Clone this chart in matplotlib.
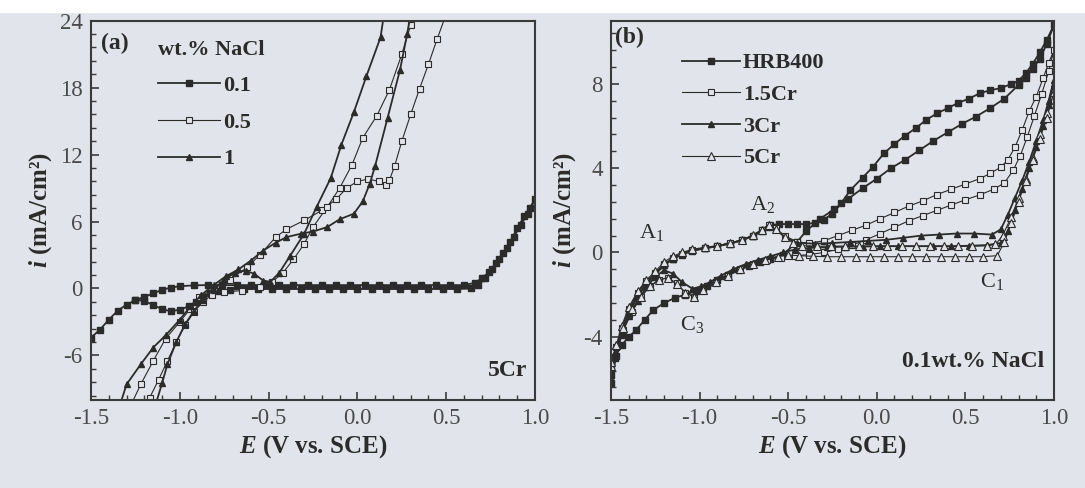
import matplotlib.pyplot as plt
from matplotlib.ticker import MultipleLocator
from matplotlib.patches import Rectangle

plt.rcParams['font.family'] = ['Liberation Serif', 'DejaVu Serif']
plt.rcParams['mathtext.fontset'] = 'custom'
plt.rcParams['mathtext.it'] = 'Liberation Serif:italic:bold'
plt.rcParams['mathtext.rm'] = 'Liberation Serif'
plt.rcParams['axes.unicode_minus'] = False

BG = '#e1e4ea'
INK = '#2b2b2b'

# ---------------- panel (a): 5Cr in different NaCl contents ----------------
a01_fwd_E = [-1.50, -1.45, -1.40, -1.35, -1.30, -1.25, -1.20, -1.15, -1.10, -1.05, -1.00,
             -0.92, -0.84, -0.76, -0.68, -0.60, -0.52, -0.44, -0.36, -0.28, -0.20, -0.12,
             -0.04, 0.04, 0.12, 0.20, 0.28, 0.36, 0.44, 0.52, 0.60,
             0.66, 0.70, 0.74, 0.78, 0.82, 0.86, 0.90, 0.94, 0.97, 1.00]
a01_fwd_i = [-4.4, -3.7, -2.8, -2.0, -1.45, -1.05, -0.75, -0.45, -0.12, 0.08, 0.2,
             0.28, 0.3, 0.3, 0.3, 0.3, 0.3, 0.3, 0.3, 0.3, 0.3, 0.3,
             0.3, 0.3, 0.3, 0.3, 0.3, 0.3, 0.3, 0.3, 0.3,
             0.5, 0.9, 1.45, 2.3, 3.2, 4.2, 5.4, 6.5, 7.2, 8.0]
a01_rev_E = [0.96, 0.92, 0.88, 0.84, 0.80, 0.76, 0.72, 0.68, 0.64, 0.56, 0.48, 0.40,
             0.32, 0.24, 0.16, 0.08, 0.00, -0.08, -0.16, -0.24, -0.32, -0.40, -0.48,
             -0.56, -0.64, -0.72, -0.78, -0.83, -0.87, -0.91, -0.95, -1.00, -1.05,
             -1.10, -1.15, -1.20, -1.25]
a01_rev_i = [6.7, 5.7, 4.6, 3.6, 2.6, 1.7, 0.9, 0.3, 0.0, -0.05, -0.05, -0.05,
             -0.05, -0.05, -0.05, -0.05, -0.05, -0.05, -0.05, -0.05, -0.05, -0.05, -0.05,
             -0.05, -0.05, -0.1, -0.2, -0.4, -0.8, -1.2, -1.6, -1.9, -2.05,
             -1.85, -1.5, -1.1, -1.05]

a05_fwd_E = [-1.28, -1.22, -1.15, -1.08, -1.00, -0.94, -0.89, -0.81, -0.72, -0.62,
             -0.55, -0.46, -0.40, -0.30, -0.20, -0.12, -0.06, 0.00, 0.06, 0.12,
             0.16, 0.18, 0.21, 0.25, 0.30, 0.35, 0.40, 0.45, 0.50]
a05_fwd_i = [-10.6, -8.6, -6.5, -4.5, -3.0, -1.8, -0.8, 0.0, 0.8, 1.9,
             3.0, 4.6, 5.3, 6.1, 7.0, 8.0, 9.0, 9.6, 9.8, 9.6,
             9.3, 9.7, 11.0, 13.2, 15.6, 17.9, 20.1, 22.4, 24.6]
a05_rev_E = [0.34, 0.30, 0.25, 0.18, 0.11, 0.03, -0.03, -0.10, -0.17, -0.25, -0.30,
             -0.36, -0.42, -0.48, -0.55, -0.65, -0.75, -0.82, -0.87, -0.92, -0.97,
             -1.02, -1.07, -1.12, -1.17, -1.21]
a05_rev_i = [25.2, 23.6, 21.0, 17.8, 15.5, 13.5, 11.1, 9.0, 7.3, 5.5, 4.0,
             2.6, 1.4, 0.6, 0.1, -0.2, -0.3, -0.6, -1.2, -2.1, -3.3,
             -4.8, -6.5, -8.2, -9.8, -10.6]

a1_fwd_E = [-1.34, -1.30, -1.22, -1.15, -1.08, -1.00, -0.94, -0.88, -0.81, -0.74,
            -0.67, -0.60, -0.53, -0.46, -0.40, -0.32, -0.25, -0.17, -0.10, -0.02,
            0.03, 0.07, 0.10, 0.17, 0.24, 0.28, 0.30]
a1_fwd_i = [-10.6, -8.6, -6.8, -5.3, -4.2, -2.8, -1.6, -0.6, 0.3, 1.1,
            1.7, 2.5, 3.4, 4.1, 4.6, 4.9, 5.1, 5.5, 6.2, 6.7,
            7.8, 9.4, 11.0, 15.3, 19.6, 22.8, 24.6]
a1_rev_E = [0.15, 0.13, 0.05, -0.02, -0.09, -0.15, -0.23, -0.30, -0.38, -0.44, -0.49,
            -0.53, -0.58, -0.63, -0.69, -0.75, -0.81, -0.87, -0.92, -0.97, -1.02,
            -1.07, -1.10, -1.14]
a1_rev_i = [24.6, 22.5, 19.0, 15.8, 12.9, 9.9, 7.3, 4.9, 2.9, 1.4, 0.6,
            0.7, 1.3, 1.6, 1.4, 0.8, -0.1, -1.0, -2.0, -3.2, -4.8,
            -6.8, -8.5, -10.6]

# ---------------- panel (b): steels in 0.1 wt.% NaCl ----------------
hrb_fwd_E = [-1.50, -1.47, -1.44, -1.40, -1.35, -1.30, -1.25, -1.20, -1.15, -1.10,
             -1.04, -0.97, -0.90, -0.83, -0.76, -0.70, -0.65, -0.60, -0.55, -0.50,
             -0.45, -0.40, -0.35, -0.30, -0.25, -0.20, -0.15, -0.08, -0.02, 0.04,
             0.10, 0.16, 0.22, 0.28, 0.34, 0.40, 0.46, 0.52, 0.58, 0.64,
             0.70, 0.76, 0.80, 0.84, 0.88, 0.92, 0.96, 1.00]
hrb_fwd_i = [-6.2, -4.9, -3.9, -2.9, -2.1, -1.5, -1.05, -0.6, -0.3, -0.1,
             0.08, 0.2, 0.3, 0.42, 0.58, 0.8, 1.05, 1.3, 1.35, 1.35,
             1.35, 1.35, 1.4, 1.55, 1.85, 2.35, 2.95, 3.55, 4.08, 4.7,
             5.15, 5.55, 5.9, 6.3, 6.6, 6.85, 7.1, 7.3, 7.55, 7.7,
             7.8, 8.0, 8.15, 8.5, 8.95, 9.5, 10.1, 10.8]
hrb_rev_E = [0.96, 0.92, 0.88, 0.84, 0.80, 0.72, 0.64, 0.56, 0.48, 0.40,
             0.32, 0.24, 0.16, 0.08, 0.00, -0.08, -0.16, -0.24, -0.32, -0.40,
             -0.45, -0.53, -0.60, -0.66, -0.72, -0.78, -0.84, -0.90, -0.96, -1.02,
             -1.08, -1.14, -1.20, -1.26, -1.31, -1.36, -1.40, -1.44, -1.48, -1.50]
hrb_rev_i = [9.9, 9.2, 8.7, 8.3, 7.95, 7.3, 6.85, 6.45, 6.1, 5.7,
             5.3, 4.85, 4.4, 4.0, 3.5, 3.05, 2.55, 2.05, 1.6, 1.0,
             0.5, -0.1, -0.3, -0.43, -0.62, -0.85, -1.05, -1.3, -1.6, -1.82,
             -2.0, -2.15, -2.4, -2.72, -3.2, -3.7, -4.0, -4.4, -5.0, -5.8]

cr15_fwd_E = [-1.50, -1.47, -1.44, -1.40, -1.35, -1.30, -1.25, -1.20, -1.15, -1.10,
              -1.04, -0.97, -0.90, -0.83, -0.76, -0.70, -0.65, -0.61, -0.57, -0.52,
              -0.45, -0.38, -0.30, -0.22, -0.14, -0.06, 0.02, 0.10, 0.18, 0.26,
              0.34, 0.42, 0.50, 0.58, 0.64, 0.70, 0.74, 0.78, 0.82, 0.86,
              0.90, 0.94, 0.97, 1.00]
cr15_fwd_i = [-5.5, -4.5, -3.6, -2.7, -1.9, -1.35, -0.95, -0.55, -0.25, -0.05,
              0.12, 0.22, 0.32, 0.45, 0.6, 0.8, 1.05, 1.3, 1.15, 0.8,
              0.5, 0.45, 0.55, 0.8, 1.05, 1.3, 1.6, 1.9, 2.2, 2.45,
              2.75, 3.0, 3.25, 3.5, 3.75, 4.05, 4.4, 5.0, 5.8, 6.7,
              7.4, 8.3, 9.0, 9.6]
cr15_rev_E = [0.97, 0.93, 0.89, 0.85, 0.81, 0.77, 0.72, 0.66, 0.58, 0.50,
              0.42, 0.34, 0.26, 0.18, 0.10, 0.02, -0.06, -0.14, -0.22, -0.30,
              -0.38, -0.46, -0.54, -0.62, -0.70, -0.77, -0.84, -0.91, -0.98, -1.03,
              -1.08, -1.13, -1.18, -1.23, -1.28, -1.33, -1.38, -1.43, -1.47, -1.50]
cr15_rev_i = [8.6, 7.5, 6.5, 5.5, 4.6, 3.9, 3.3, 3.0, 2.73, 2.5,
              2.25, 2.0, 1.75, 1.5, 1.2, 0.9, 0.6, 0.35, 0.15, 0.0,
              -0.1, -0.15, -0.25, -0.35, -0.55, -0.8, -1.1, -1.45, -1.85, -2.1,
              -1.9, -1.45, -1.2, -1.3, -1.6, -2.1, -2.8, -3.7, -4.5, -5.4]

cr3_fwd_E = [-1.50, -1.47, -1.44, -1.40, -1.35, -1.30, -1.25, -1.20, -1.15, -1.10,
             -1.04, -0.97, -0.90, -0.83, -0.76, -0.70, -0.65, -0.61, -0.57, -0.52,
             -0.45, -0.35, -0.25, -0.15, -0.05, 0.05, 0.15, 0.25, 0.35, 0.45,
             0.55, 0.65, 0.70, 0.74, 0.78, 0.82, 0.86, 0.90, 0.94, 0.97, 1.00]
cr3_fwd_i = [-6.0, -4.8, -3.8, -2.8, -2.0, -1.45, -1.0, -0.6, -0.3, -0.08,
             0.1, 0.2, 0.3, 0.42, 0.58, 0.78, 1.0, 1.2, 1.1, 0.75,
             0.45, 0.42, 0.45, 0.5, 0.55, 0.6, 0.7, 0.8, 0.85, 0.9,
             0.9, 0.85, 1.1, 1.8, 2.6, 3.4, 4.3, 5.3, 6.3, 7.2, 8.2]
cr3_rev_E = [0.97, 0.94, 0.90, 0.86, 0.82, 0.78, 0.74, 0.70, 0.62, 0.52,
             0.42, 0.32, 0.22, 0.12, 0.02, -0.08, -0.18, -0.28, -0.38, -0.46,
             -0.53, -0.60, -0.67, -0.74, -0.81, -0.88, -0.94, -0.99, -1.04, -1.10,
             -1.15, -1.20, -1.25, -1.30, -1.35, -1.40, -1.44, -1.48, -1.50]
cr3_rev_i = [7.0, 6.0, 5.0, 4.0, 3.0, 2.0, 1.0, 0.45, 0.35, 0.32,
             0.3, 0.3, 0.3, 0.3, 0.3, 0.28, 0.28, 0.25, 0.22, 0.15,
             0.0, -0.18, -0.35, -0.55, -0.8, -1.1, -1.4, -1.6, -1.72, -1.4,
             -1.0, -0.85, -1.15, -1.65, -2.3, -3.0, -3.8, -4.8, -5.8]

cr5_fwd_E = [-1.50, -1.47, -1.44, -1.40, -1.35, -1.30, -1.25, -1.20, -1.15, -1.10,
             -1.04, -0.97, -0.90, -0.83, -0.76, -0.70, -0.65, -0.61, -0.57, -0.52,
             -0.47, -0.42, -0.34, -0.26, -0.18, -0.10, -0.02, 0.06, 0.14, 0.22,
             0.30, 0.38, 0.46, 0.54, 0.62, 0.67, 0.71, 0.76, 0.80, 0.84,
             0.88, 0.92, 0.96, 1.00]
cr5_fwd_i = [-5.4, -4.4, -3.5, -2.6, -1.85, -1.3, -0.9, -0.45, -0.18, 0.0,
             0.15, 0.25, 0.32, 0.45, 0.6, 0.82, 1.08, 1.32, 1.1, 0.72,
             0.45, 0.32, 0.3, 0.3, 0.3, 0.3, 0.3, 0.3, 0.3, 0.3,
             0.3, 0.3, 0.3, 0.3, 0.32, 0.38, 0.8, 1.7, 2.6, 3.5,
             4.5, 5.6, 6.6, 7.6]
cr5_rev_E = [0.96, 0.92, 0.88, 0.84, 0.80, 0.76, 0.72, 0.68, 0.60, 0.52,
             0.44, 0.36, 0.28, 0.20, 0.12, 0.04, -0.04, -0.12, -0.20, -0.28,
             -0.36, -0.44, -0.50, -0.56, -0.63, -0.70, -0.77, -0.84, -0.91, -0.98,
             -1.03, -1.08, -1.13, -1.18, -1.23, -1.28, -1.33, -1.38, -1.43, -1.47, -1.50]
cr5_rev_i = [6.4, 5.4, 4.4, 3.4, 2.4, 1.4, 0.5, -0.15, -0.2, -0.2,
             -0.2, -0.2, -0.2, -0.2, -0.2, -0.2, -0.2, -0.2, -0.2, -0.2,
             -0.18, -0.15, -0.12, -0.2, -0.35, -0.55, -0.8, -1.1, -1.4, -1.8,
             -2.1, -1.9, -1.5, -1.2, -1.3, -1.6, -2.1, -2.7, -3.6, -4.4, -5.2]

x_ticks = [-1.5, -1.0, -0.5, 0.0, 0.5, 1.0]
a_yticks = [-6, 0, 6, 12, 18, 24]
b_yticks = [-4, 0, 4, 8]

filled_sq = dict(marker='s', ms=4, mfc=INK, mec=INK, color=INK, lw=1.3)
open_sq = dict(marker='s', ms=4.5, mfc=BG, mec=INK, mew=0.8, color=INK, lw=0.8)
filled_tri = dict(marker='^', ms=5, mfc=INK, mec=INK, color=INK, lw=1.3)
open_tri = dict(marker='^', ms=5.5, mfc=BG, mec=INK, mew=0.8, color=INK, lw=0.8)


def style_axes(ax, ylim, yticks, yminor):
    ax.set_facecolor(BG)
    ax.set_xlim(-1.5, 1.0)
    ax.set_ylim(*ylim)
    ax.set_xticks(x_ticks)
    ax.set_xticklabels([f'{t:.1f}' for t in x_ticks])
    ax.set_yticks(yticks)
    ax.set_yticklabels([str(t) for t in yticks])
    ax.xaxis.set_minor_locator(MultipleLocator(0.1))
    ax.yaxis.set_minor_locator(MultipleLocator(yminor))
    ax.tick_params(which='both', direction='in', top=False, right=False,
                   color='#3a3a3a', labelcolor='#4a4a4a', labelsize=16.5, pad=6)
    ax.tick_params(which='major', length=6, width=1.2)
    ax.tick_params(which='minor', length=3.5, width=1.0)
    for s in ax.spines.values():
        s.set_color('#3a3a3a')
        s.set_linewidth(1.5)
    ax.set_xlabel(r'$E$ (V vs. SCE)', fontsize=18, fontweight='bold', color=INK, labelpad=3)
    ax.set_ylabel(r'$i$ (mA/cm²)', fontsize=18, fontweight='bold', color=INK, labelpad=4)


fig = plt.figure(figsize=(10.85, 4.88), dpi=100, facecolor=BG)
fig.add_artist(Rectangle((0, 1 - 12 / 488), 1, 12 / 488, transform=fig.transFigure,
                         color='white', zorder=-1))

ax_a = fig.add_axes([0.0839, 0.1803, 0.4092, 0.7773])
ax_b = fig.add_axes([0.5631, 0.1803, 0.4083, 0.7773])

# panel (a)
h01, = ax_a.plot(a01_fwd_E + a01_rev_E, a01_fwd_i + a01_rev_i, label='0.1', **filled_sq)
h05, = ax_a.plot(a05_fwd_E + a05_rev_E, a05_fwd_i + a05_rev_i, label='0.5', **open_sq)
h1, = ax_a.plot(a1_fwd_E + a1_rev_E, a1_fwd_i + a1_rev_i, label='1', **filled_tri)
style_axes(ax_a, (-10, 24), a_yticks, 1.2)
leg = ax_a.legend(handles=[h01, h05, h1], title='wt.% NaCl', loc='upper left',
                  bbox_to_anchor=(0.15, 0.95), frameon=False, borderpad=0, borderaxespad=0,
                  handlelength=2.8, handletextpad=0.15, labelspacing=0.72, numpoints=1,
                  alignment='left', prop={'size': 16, 'weight': 'bold'},
                  title_fontproperties={'size': 16, 'weight': 'bold'})
for t in leg.get_texts():
    t.set_color(INK)
leg.get_title().set_color(INK)
ax_a.text(0.022, 0.968, '(a)', transform=ax_a.transAxes, ha='left', va='top',
          fontsize=17, fontweight='bold', color=INK)
ax_a.text(0.982, 0.05, '5Cr', transform=ax_a.transAxes, ha='right', va='bottom',
          fontsize=17, fontweight='bold', color=INK)

# panel (b)
hh, = ax_b.plot(hrb_fwd_E + hrb_rev_E, hrb_fwd_i + hrb_rev_i, label='HRB400', **filled_sq)
h15, = ax_b.plot(cr15_fwd_E + cr15_rev_E, cr15_fwd_i + cr15_rev_i, label='1.5Cr', **open_sq)
h3, = ax_b.plot(cr3_fwd_E + cr3_rev_E, cr3_fwd_i + cr3_rev_i, label='3Cr', **filled_tri)
h5, = ax_b.plot(cr5_fwd_E + cr5_rev_E, cr5_fwd_i + cr5_rev_i, label='5Cr', **open_tri)
style_axes(ax_b, (-7, 11), b_yticks, 0.8)
leg_b = ax_b.legend(handles=[hh, h15, h3, h5], loc='upper left',
                    bbox_to_anchor=(0.16, 0.915), frameon=False, borderpad=0, borderaxespad=0,
                    handlelength=2.6, handletextpad=0.15, labelspacing=0.5, numpoints=1,
                    prop={'size': 16, 'weight': 'bold'})
for t in leg_b.get_texts():
    t.set_color(INK)
ax_b.text(0.009, 0.983, '(b)', transform=ax_b.transAxes, ha='left', va='top',
          fontsize=17, fontweight='bold', color=INK)
ax_b.text(0.977, 0.074, '0.1wt.% NaCl', transform=ax_b.transAxes, ha='right', va='bottom',
          fontsize=17, fontweight='bold', color=INK)

peak_labels = ['A$_1$', 'A$_2$', 'C$_3$', 'C$_1$']
peak_E = [-1.27, -0.645, -1.04, 0.65]
peak_i = [0.93, 2.26, -3.43, -1.37]
for lab, e, c in zip(peak_labels, peak_E, peak_i):
    ax_b.text(e, c, lab, ha='center', va='center', fontsize=16, color=INK)

fig.savefig('out.png', dpi=100, facecolor=BG)
